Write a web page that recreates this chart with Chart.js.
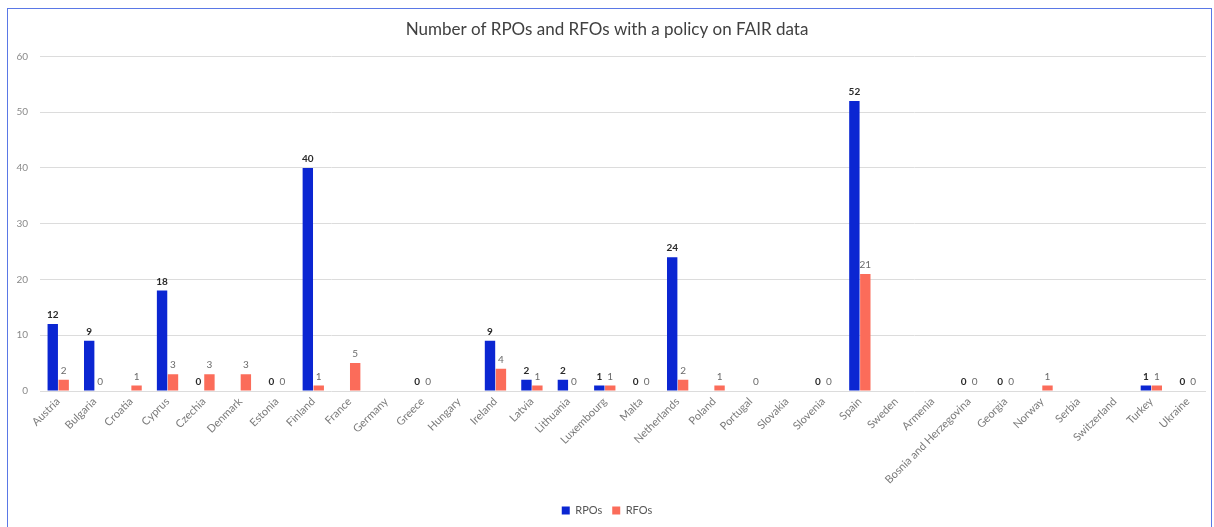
<!DOCTYPE html>
<html>
<head>
<meta charset="utf-8">
<script src="https://cdn.jsdelivr.net/npm/chart.js@4"></script>
<style>
html,body{margin:0;padding:0;background:#fff;}
canvas{display:block;}
</style>
</head>
<body>
<canvas id="c" width="1214" height="527"></canvas>
<script>
const categories = ["Austria","Bulgaria","Croatia","Cyprus","Czechia","Denmark","Estonia","Finland","France","Germany","Greece","Hungary","Ireland","Latvia","Lithuania","Luxembourg","Malta","Netherlands","Poland","Portugal","Slovakia","Slovenia","Spain","Sweden","Armenia","Bosnia and Herzegovina","Georgia","Norway","Serbia","Switzerland","Turkey","Ukraine"];
const rpos = [12,9,null,18,0,null,0,40,null,null,0,null,9,2,2,1,0,24,null,null,null,0,52,null,null,0,0,null,null,null,1,0];
const rfos = [2,0,1,3,3,3,0,1,5,null,0,null,4,1,0,1,0,2,1,0,null,0,21,null,null,0,0,1,null,null,1,0];
const yTicks = [0,10,20,30,40,50,60];
const titleText = "Number of RPOs and RFOs with a policy on FAIR data";
const seriesNames = ["RPOs","RFOs"];

const FONT = "Lato, 'Open Sans', sans-serif";

const framePlugin = {
  id: 'frame',
  beforeDraw(chart){
    const ctx = chart.ctx;
    ctx.save();
    ctx.fillStyle = '#fff';
    ctx.fillRect(0,0,chart.width,chart.height);
    ctx.strokeStyle = '#5a78e6';
    ctx.lineWidth = 1;
    ctx.strokeRect(7.5, 8.5, 1204, 540);
    ctx.restore();
  }
};

const labelPlugin = {
  id: 'vlabels',
  afterDatasetsDraw(chart){
    const ctx = chart.ctx;
    ctx.save();
    ctx.textAlign = 'center';
    ctx.textBaseline = 'bottom';
    chart.data.datasets.forEach((ds, di) => {
      const meta = chart.getDatasetMeta(di);
      meta.data.forEach((bar, i) => {
        const v = ds.data[i];
        if (v === null || v === undefined) return;
        if (di === 0) { ctx.font = "bold 10px " + FONT; ctx.fillStyle = '#2a2a2a'; }
        else { ctx.font = "10px " + FONT; ctx.fillStyle = '#6a6a6a'; }
        ctx.fillText(String(v), bar.x, bar.y - 4);
      });
    });
    ctx.restore();
  }
};

new Chart(document.getElementById('c'), {
  type: 'bar',
  data: {
    labels: categories,
    datasets: [
      { label: seriesNames[0], data: rpos, backgroundColor: '#0b26d2', borderWidth: 0,
        categoryPercentage: 0.6, barPercentage: 0.95 },
      { label: seriesNames[1], data: rfos, backgroundColor: '#fb6c5a', borderWidth: 0,
        categoryPercentage: 0.6, barPercentage: 0.95 }
    ]
  },
  options: {
    responsive: false,
    animation: false,
    devicePixelRatio: 1,
    layout: { padding: { left: 8, right: 8, top: 0, bottom: 1 } },
    plugins: {
      title: {
        display: true, text: titleText, color: '#404040',
        font: { family: FONT, size: 17, weight: 'normal' },
        padding: { top: 19, bottom: 17 }
      },
      legend: {
        position: 'bottom',
        labels: { color: '#555', font: { family: FONT, size: 11 }, boxWidth: 8, boxHeight: 8, padding: 10 }
      },
      tooltip: { enabled: false }
    },
    scales: {
      x: {
        grid: { display: false, drawTicks: false },
        border: { display: false },
        ticks: { color: '#7a7a7a', font: { family: FONT, size: 11 }, minRotation: 45, maxRotation: 45, autoSkip: false, padding: 4 },
        afterFit(scale){ scale.height = 104; }
      },
      y: {
        min: 0, max: 60,
        afterBuildTicks(scale){ scale.ticks = yTicks.map(v => ({value: v})); },
        grid: { color: '#dcdcdc', drawTicks: false, lineWidth: 1 },
        border: { display: false },
        ticks: { color: '#8a8a8a', font: { family: FONT, size: 10 }, padding: 12 },
        afterFit(scale){ scale.width = 32; }
      }
    }
  },
  plugins: [framePlugin, labelPlugin]
});
</script>
</body>
</html>
